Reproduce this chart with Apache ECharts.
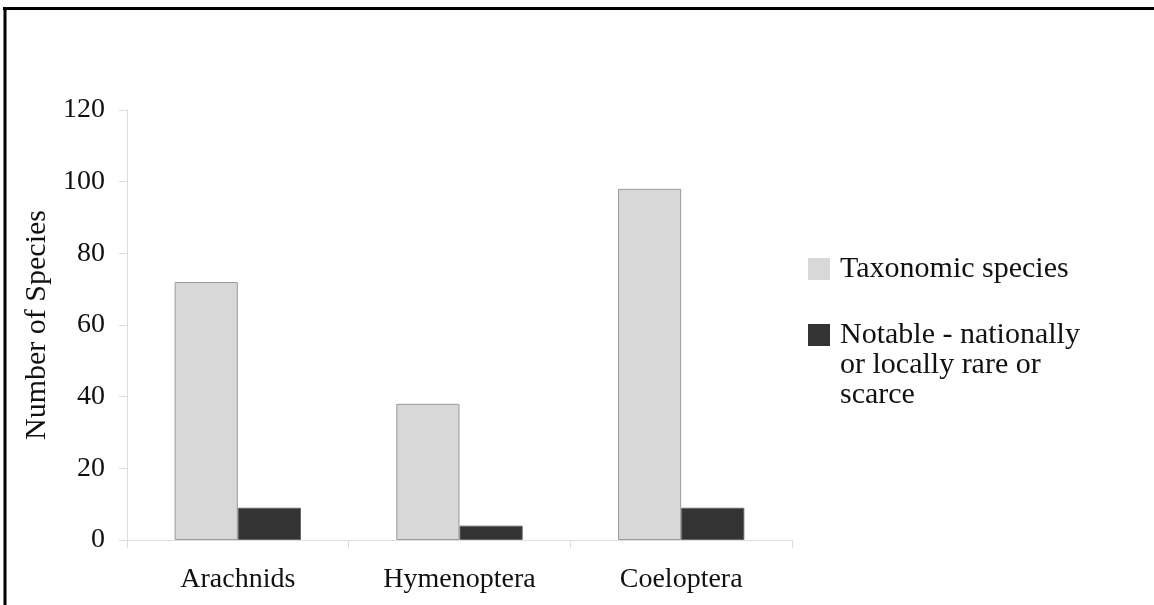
<!DOCTYPE html>
<html>
<head>
<meta charset="utf-8">
<script src="https://cdn.jsdelivr.net/npm/echarts@6/dist/echarts.min.js"></script>
<style>
html, body { margin: 0; padding: 0; background: #fff; }
#chart { width: 1154px; height: 605px; }
</style>
</head>
<body>
<div id="chart"></div>
<script>
// 数据
var categories = ['Arachnids', 'Hymenoptera', 'Coeloptera'];
var taxonomic = [72, 38, 98];
var notable = [9, 4, 9];
var seriesNames = ['Taxonomic species', 'Notable - nationally\nor locally rare or\nscarce'];

(function(){

var chart = echarts.init(document.getElementById("chart"));
var serif = 'Liberation Serif';

option = {
    backgroundColor: '#fff',
    animation: false,
    // 外框（只有上边和左边）
    graphic: [
        { type: 'line', shape: { x1: 3, y1: 8.5, x2: 1154, y2: 8.5 }, style: { stroke: '#000', lineWidth: 3 } },
        { type: 'line', shape: { x1: 5, y1: 7, x2: 5, y2: 605 }, style: { stroke: '#000', lineWidth: 3 } }
    ],
    // 两个图例分开放，多行文字时方块对齐第一行（前面加空行）
    legend: [
        {
            orient: 'vertical',
            left: 803,
            top: 249,
            itemWidth: 22,
            itemHeight: 22,
            icon: 'rect',
            itemStyle: { borderWidth: 0 },
            data: [seriesNames[0]],
            textStyle: {
                fontFamily: serif,
                fontSize: 30,
                color: '#111',
                lineHeight: 30,
                padding: [0, 0, 0, 5]
            }
        },
        {
            orient: 'vertical',
            left: 803,
            top: 255,
            itemWidth: 22,
            itemHeight: 22,
            icon: 'rect',
            itemStyle: { borderWidth: 0 },
            data: [seriesNames[1]],
            formatter: function (name) { return '\n\n' + name; },
            textStyle: {
                fontFamily: serif,
                fontSize: 30,
                color: '#111',
                lineHeight: 30,
                padding: [0, 0, 0, 5]
            }
        }
    ],
    grid: {
        left: 127,
        right: 362,
        top: 110,
        bottom: 65
    },
    xAxis: {
        type: 'category',
        data: categories,
        axisLine: { lineStyle: { color: '#ddd', width: 1 } },
        axisTick: { show: true, length: 8, lineStyle: { color: '#ddd' } },
        axisLabel: { fontFamily: serif, fontSize: 28, color: '#111', margin: 26 }
    },
    yAxis: {
        type: 'value',
        min: 0,
        max: 120,
        interval: 20,
        name: 'Number of Species',
        nameLocation: 'middle',
        nameRotate: 90,
        nameGap: 75,
        nameTextStyle: { fontFamily: serif, fontSize: 30, color: '#111' },
        axisLine: { show: true, lineStyle: { color: '#ddd', width: 1 } },
        axisTick: { show: true, length: 8, lineStyle: { color: '#ddd' } },
        splitLine: { show: false },
        axisLabel: { fontFamily: serif, fontSize: 28, color: '#111', margin: 22 }
    },
    series: [
        {
            name: seriesNames[0],
            type: 'bar',
            barGap: '0%',
            barCategoryGap: '43%',
            itemStyle: { color: '#d8d8d8', borderColor: '#9a9a9a', borderWidth: 1 },
            data: taxonomic
        },
        {
            name: seriesNames[1],
            type: 'bar',
            itemStyle: { color: '#333333', borderColor: '#666', borderWidth: 1 },
            data: notable
        }
    ]
};

chart.setOption(option);
})();
</script>
</body>
</html>
